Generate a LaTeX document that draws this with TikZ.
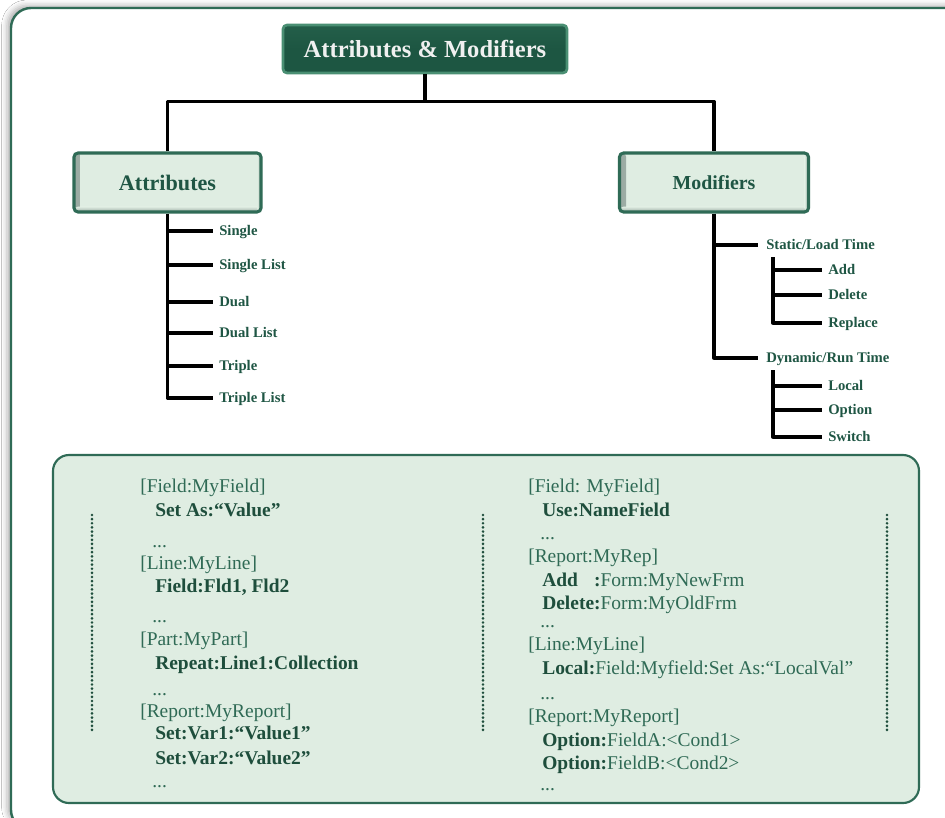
\documentclass[tikz,border=0pt]{standalone}
\usepackage{fontspec}
\setmainfont{Liberation Serif}
\usetikzlibrary{calc,shadows.blur}

\definecolor{frameg}{HTML}{2F6B56}
\definecolor{paleg}{HTML}{DFEDE2}
\definecolor{darkg}{HTML}{1D5642}
\definecolor{titleedge}{HTML}{4A8F73}
\definecolor{labelg}{HTML}{1F5644}
\definecolor{codeg}{HTML}{2F6A55}
\definecolor{codeb}{HTML}{1E4E3C}
\definecolor{bevel}{HTML}{9AAAA2}

\newcommand\kw[1]{\textcolor{codeb}{\textbf{#1}}}

\begin{document}
\begin{tikzpicture}[x=0.75pt,y=-0.75pt,
  txt/.style={inner sep=0pt, anchor=west, text height=0.66em, text depth=0pt},
  lbl/.style={txt, font=\fontsize{11}{13}\selectfont\bfseries, text=labelg},
  code/.style={txt, font=\fontsize{14.6}{17}\selectfont, text=codeg},
  ell/.style={inner sep=0pt, anchor=base west, text height=0.1em, text depth=0pt,
    font=\fontsize{14.6}{17}\selectfont, text=codeg},
  wire/.style={line width=2.5pt, black, line join=round},
  dotline/.style={codeb, line width=2.2pt, line cap=round, dash pattern=on 0pt off 3.1pt},
  titlebox/.style={draw=titleedge, line width=2pt, rounded corners=3pt,
    top color=darkg!85!titleedge, bottom color=darkg, middle color=darkg,
    text=white!94!black, font=\fontsize{18.4}{22}\selectfont\bfseries,
    minimum width=213pt, minimum height=36pt, inner sep=0pt},
  catbox/.style={draw=frameg, line width=2.3pt, fill=paleg, rounded corners=3pt,
    text=labelg, inner sep=0pt, minimum height=44.25pt,
    path picture={
      \shade[left color=bevel, right color=paleg]
        (path picture bounding box.south west) rectangle ([xshift=5pt]path picture bounding box.north west);
      \shade[top color=paleg, bottom color=bevel]
        (path picture bounding box.south west) rectangle ([yshift=4pt]path picture bounding box.south east);
      \shade[left color=paleg, right color=bevel!60!paleg]
        ([xshift=-3pt]path picture bounding box.south east) rectangle (path picture bounding box.north east);
    }},
]
\useasboundingbox (0,0) rectangle (945,817);
\fill[white] (0,0) rectangle (945,817);
\clip (0,0) rectangle (945,817);

% outer frame
\draw[frameg, line width=1.8pt, rounded corners=15pt, fill=white,
      blur shadow={shadow xshift=-3pt, shadow yshift=2pt, shadow blur radius=4pt, shadow opacity=30}]
  (11,8) rectangle (975,830);

% hierarchy boxes
\node[titlebox] (title) at (425,49) {Attributes \& Modifiers};
\node[catbox, minimum width=140.25pt, font=\fontsize{16.6}{20}\selectfont\bfseries] (attr) at (167.5,182.5) {Attributes};
\node[catbox, minimum width=141.75pt, font=\fontsize{14.9}{18}\selectfont\bfseries] (mod) at (714,182.5) {Modifiers};

\coordinate (hub) at ($(title.south)+(0,27)$);
\draw[wire] (title.south) -- (hub);
\draw[wire] (attr.north) |- (hub) -| (mod.north);

% attribute kinds
\node[lbl] (a1) at (219,231) {Single};
\node[lbl] (a2) at (219,265) {Single List};
\node[lbl] (a3) at (219,302) {Dual};
\node[lbl] (a4) at (219,333) {Dual List};
\node[lbl] (a5) at (219,366) {Triple};
\node[lbl] (a6) at (219,398) {Triple List};
\draw[wire] (attr.south) |- ($(a6.west)+(-6,0)$);
\foreach \i in {1,...,5}
  \draw[wire] (attr.south |- a\i.west) -- ($(a\i.west)+(-6,0)$);

% modifier kinds
\node[lbl] (m1) at (766,245) {Static/Load Time};
\node[lbl] (m2) at (766,358) {Dynamic/Run Time};
\draw[wire] (mod.south) |- ($(m2.west)+(-8,0)$);
\draw[wire] (mod.south |- m1.west) -- ($(m1.west)+(-8,0)$);

\node[lbl] (m1a) at (828,270) {Add};
\node[lbl] (m1b) at (828,295) {Delete};
\node[lbl] (m1c) at (828,323) {Replace};
\coordinate (s1) at ($(m1.west)+(7,12)$);
\draw[wire] (s1) |- ($(m1c.west)+(-6,0)$);
\draw[wire] (s1 |- m1a.west) -- ($(m1a.west)+(-6,0)$);
\draw[wire] (s1 |- m1b.west) -- ($(m1b.west)+(-6,0)$);

\node[lbl] (m2a) at (828,386) {Local};
\node[lbl] (m2b) at (828,410) {Option};
\node[lbl] (m2c) at (828,437) {Switch};
\coordinate (s2) at ($(m2.west)+(7,12)$);
\draw[wire] (s2) |- ($(m2c.west)+(-6,0)$);
\draw[wire] (s2 |- m2a.west) -- ($(m2a.west)+(-6,0)$);
\draw[wire] (s2 |- m2b.west) -- ($(m2b.west)+(-6,0)$);

% example panel
\draw[frameg, line width=1.6pt, fill=paleg, rounded corners=12pt] (53,455) rectangle (919,803);
\draw[dotline] (92,515) -- (92,733);
\draw[dotline] (483,515) -- (483,733);
\draw[dotline] (887,515) -- (887,733);

% attribute examples
\node[code] (l1)  at (140,488) {[Field:MyField]};
\node[code] (l2)  at (155,512) {\kw{Set As:“Value”}};
\node[ell]  (l3)  at (152,547) {...};
\node[code] (l4)  at (140,565) {[Line:MyLine]};
\node[code] (l5)  at (155,588) {\kw{Field:Fld1, Fld2}};
\node[ell]  (l6)  at (152,622) {...};
\node[code] (l7)  at (140,641) {[Part:MyPart]};
\node[code] (l8)  at (155,665) {\kw{Repeat:Line1:Collection}};
\node[ell]  (l9)  at (152,695) {...};
\node[code] (l10) at (140,713) {[Report:MyReport]};
\node[code] (l11) at (155,735) {\kw{Set:Var1:“Value1”}};
\node[code] (l12) at (155,760) {\kw{Set:Var2:“Value2”}};
\node[ell]  (l13) at (152,787) {...};

% modifier examples
\node[code] (r1)  at (528,488) {[Field: MyField]};
\node[code] (r2)  at (542,512) {\kw{Use:NameField}};
\node[ell]  (r3)  at (540,539) {...};
\node[code] (r4)  at (528,558) {[Report:MyRep]};
\node[code] (r5)  at (542,582) {\kw{\rlap{Add}\phantom{Delete}:}Form:MyNewFrm};
\node[code] (r6)  at (542,605) {\kw{Delete:}Form:MyOldFrm};
\node[ell]  (r7)  at (540,627) {...};
\node[code] (r8)  at (528,646) {[Line:MyLine]};
\node[code] (r9)  at (542,670) {\kw{Local:}Field:Myfield:Set As:“LocalVal”};
\node[ell]  (r10) at (540,699) {...};
\node[code] (r11) at (528,718) {[Report:MyReport]};
\node[code] (r12) at (542,742) {\kw{Option:}FieldA:<Cond1>};
\node[code] (r13) at (542,765) {\kw{Option:}FieldB:<Cond2>};
\node[ell]  (r14) at (540,790) {...};
\end{tikzpicture}
\end{document}
